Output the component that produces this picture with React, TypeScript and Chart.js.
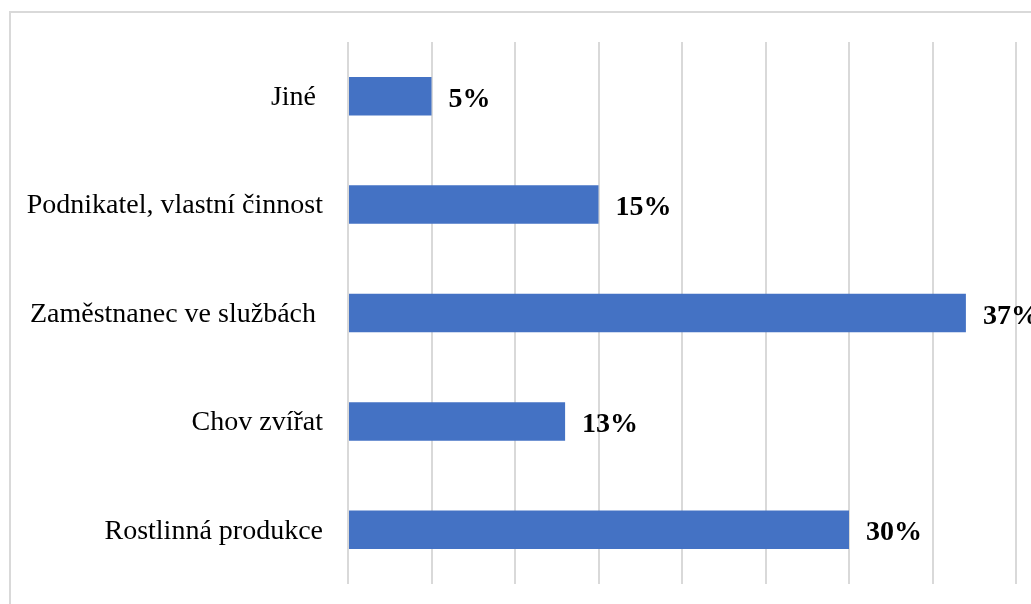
import React, { useEffect, useRef } from "react";
import { Chart, registerables } from "chart.js";

Chart.register(...registerables);

const categories: string[] = [
  "Jiné ",
  "Podnikatel, vlastní činnost",
  "Zaměstnanec ve službách ",
  "Chov zvířat",
  "Rostlinná produkce",
];
const values: number[] = [5, 15, 37, 13, 30];
const valueLabels: string[] = ["5%", "15%", "37%", "13%", "30%"];
const axisMin = 0;
const axisMax = 40;
const axisStep = 5;

const FONT = "'Liberation Serif', 'Times New Roman', serif";

const dataLabelPlugin = {
  id: "dataLabels",
  afterDatasetsDraw(chart: any) {
    const ctx = chart.ctx;
    const meta = chart.getDatasetMeta(0);
    ctx.save();
    ctx.font = `bold 28px ${FONT}`;
    ctx.fillStyle = "#000000";
    ctx.textAlign = "left";
    ctx.textBaseline = "alphabetic";
    meta.data.forEach((bar: any, i: number) => {
      ctx.fillText(valueLabels[i], bar.x + 17, bar.y + 10.5);
    });
    ctx.restore();
  },
};

export default function App() {
  const canvasRef = useRef<HTMLCanvasElement | null>(null);

  useEffect(() => {
    if (!canvasRef.current) return;
    const chart = new Chart(canvasRef.current, {
      type: "bar",
      data: {
        labels: categories,
        datasets: [
          {
            data: values,
            backgroundColor: "#4472C4",
            borderWidth: 0,
            barPercentage: 0.355,
            categoryPercentage: 1,
          },
        ],
      },
      options: {
        indexAxis: "y",
        animation: false,
        responsive: false,
        maintainAspectRatio: false,
        devicePixelRatio: 1,
        layout: { padding: { top: 42, left: 0, right: 84, bottom: 56 } },
        plugins: {
          legend: { display: false },
          tooltip: { enabled: false },
          title: { display: false },
        },
        scales: {
          x: {
            type: "linear",
            min: axisMin,
            max: axisMax,
            ticks: { display: false, stepSize: axisStep },
            grid: { color: "#d9d9d9", lineWidth: 2, drawTicks: false },
            border: { display: false },
            afterFit: (s: any) => {
              s.height = 0;
            },
          },
          y: {
            type: "category",
            ticks: {
              color: "#000000",
              font: { family: FONT, size: 28 },
              padding: 25,
              labelOffset: 1.5,
            },
            grid: { display: false, drawTicks: false },
            border: { display: false },
            afterFit: (s: any) => {
              s.width = 348;
            },
          },
        },
      },
      plugins: [dataLabelPlugin],
    } as any);
    return () => chart.destroy();
  }, []);

  return (
    <div
      style={{
        position: "fixed",
        left: 0,
        top: 0,
        width: 1031,
        height: 604,
        overflow: "hidden",
        background: "#ffffff",
      }}
    >
      <div
        style={{
          position: "absolute",
          left: 9,
          top: 11,
          width: 1200,
          height: 700,
          border: "2px solid #d9d9d9",
          boxSizing: "border-box",
        }}
      />
      <canvas
        ref={canvasRef}
        width={1100}
        height={640}
        style={{ position: "absolute", left: 0, top: 0, width: 1100, height: 640 }}
      />
    </div>
  );
}
